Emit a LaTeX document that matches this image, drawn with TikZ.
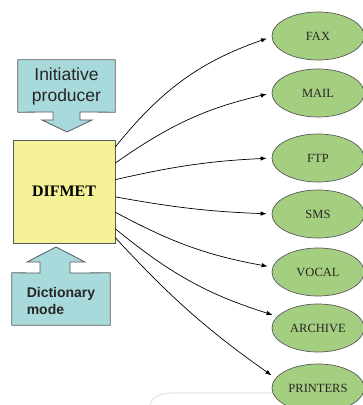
\documentclass[tikz,border=0pt]{standalone}
\usepackage{fontspec}
\setmainfont{Liberation Serif}
\setsansfont{Liberation Sans}
\usetikzlibrary{shapes.geometric,arrows.meta}

\definecolor{calloutcyan}{RGB}{168,218,220}
\definecolor{boxyellow}{RGB}{245,241,150}
\definecolor{destgreen}{RGB}{165,207,128}
\definecolor{edgegray}{RGB}{90,90,90}

\tikzset{
  callout/.style={fill=calloutcyan,draw=edgegray,line width=0.8pt},
  core/.style={rectangle,fill=boxyellow,draw=edgegray,line width=0.8pt,
    minimum width=102pt,minimum height=103pt,inner sep=0pt,
    font=\fontsize{16}{18}\selectfont\bfseries},
  dest/.style={ellipse,fill=destgreen,draw=edgegray,line width=0.7pt,
    minimum width=92pt,minimum height=48pt,inner sep=0pt,
    font=\fontsize{12.5}{14}\selectfont,text=black!85},
  link/.style={-{Latex[length=6pt,width=4.5pt]},line width=0.7pt,shorten >=5pt}
}

\begin{document}
\begin{tikzpicture}[x=1pt,y=1pt]
\useasboundingbox (0,0) rectangle (363,405);
% faint background frame
\draw[gray!20,line width=1.2pt] (150,0) to[out=75,in=180] (180,12) -- (275,12);

% callouts
\node[minimum width=97pt,minimum height=52pt,inner sep=0pt] (init) at (66.5,319) {};
\draw[callout] (init.north west) -- (init.north east) -- (init.south east) -- (80,293) -- (80,285) -- (92,285) -- (67,273) -- (42,285) -- (53,285) -- (53,293) -- (init.south west) -- cycle;
\node[align=center,font=\sffamily\fontsize{17.5}{21}\selectfont,text=black!85] (inittext) at (init) {Initiative\\producer};

\node[minimum width=98pt,minimum height=52pt,inner sep=0pt] (dict) at (61,106) {};
\draw[callout] (dict.south west) -- (dict.south east) -- (dict.north east) -- (70,132) -- (70,143) -- (85,143) -- (56,158) -- (27,143) -- (40,143) -- (40,132) -- (dict.north west) -- cycle;
\node[align=left,font=\sffamily\bfseries\fontsize{14}{17}\selectfont,text=black!85] (dicttext) at (61,104) {Dictionary\\mode};

% main box
\node[core] (difmet) at (64,213.5) {DIFMET};

% destinations
\foreach \nm/\lbl/\y in {fax/FAX/369,mail/MAIL/312,ftp/FTP/247,sms/SMS/191,vocal/VOCAL/133,archive/ARCHIVE/77,printers/PRINTERS/17}
  \node[dest] (\nm) at (318,\y) {\lbl};

% links
\foreach \nm/\a/\b/\bd in {fax/41/181/16,mail/29/180/11,ftp/13/180/5,sms/-6/180/-4,vocal/-22/174/-9,archive/-36/164/-11,printers/-42/167/-6}
  \draw[link] (difmet.\a) to[bend left=\bd] (\nm.\b);
\end{tikzpicture}
\end{document}
